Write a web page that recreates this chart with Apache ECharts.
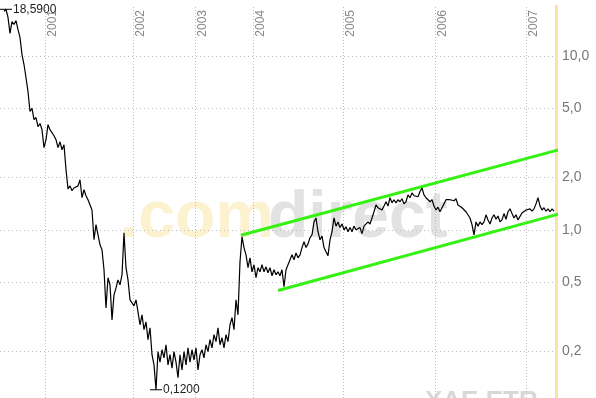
<!DOCTYPE html>
<html><head><meta charset="utf-8">
<script src="https://cdn.jsdelivr.net/npm/echarts@6/dist/echarts.min.js"></script>
<style>html,body{margin:0;padding:0;background:#fff}#c{width:596px;height:398px}</style>
</head><body><div id="c"></div>
<script>
// daily closing prices (compressed trading-day index)
const prices = [
18.1,18.59,16.7,13.5,15.8,15.2,16.0,14.2,12.8,10.2,8.94,7.5,6.24,4.8,5.0,4.31,4.43,3.92,4.09,3.77,
2.97,3.30,4.03,3.77,3.87,3.48,3.30,2.97,3.21,2.89,3.09,2.22,1.72,1.79,1.68,1.74,1.70,1.79,1.94,1.53,
1.70,1.57,1.49,1.53,1.30,0.876,1.07,0.936,0.820,0.767,0.589,0.355,0.53,0.482,0.303,0.422,0.463,0.515,0.482,0.551,
0.96,0.605,0.515,0.395,0.405,0.365,0.395,0.337,0.284,0.324,0.266,0.295,0.233,0.273,0.191,0.167,0.12,0.199,0.173,0.204,
0.183,0.218,0.167,0.191,0.16,0.199,0.173,0.141,0.191,0.156,0.199,0.167,0.209,0.173,0.204,0.178,0.209,0.156,0.191,0.204,
0.183,0.218,0.199,0.233,0.209,0.249,0.227,0.273,0.218,0.239,0.209,0.249,0.227,0.284,0.312,0.266,0.395,0.324,0.655,0.91,
0.79,0.718,0.605,0.69,0.573,0.629,0.53,0.605,0.573,0.629,0.573,0.612,0.566,0.605,0.544,0.589,0.551,0.573,0.544,0.589,
0.47,0.589,0.629,0.672,0.718,0.672,0.735,0.69,0.718,0.79,0.853,0.79,0.83,0.90,0.936,1.11,1.17,0.975,0.876,0.92,
0.79,0.747,0.71,0.876,0.975,1.17,1.05,1.11,1.03,1.08,1.0,1.04,0.975,1.03,0.975,1.05,1.0,0.975,1.03,0.95,
1.05,1.03,1.11,1.08,1.17,1.27,1.39,1.34,1.37,1.30,1.37,1.45,1.37,1.53,1.43,1.49,1.43,1.49,1.45,1.51,
1.41,1.45,1.59,1.53,1.63,1.57,1.61,1.55,1.66,1.74,1.59,1.53,1.57,1.45,1.49,1.37,1.30,1.35,1.27,1.34,
1.41,1.49,1.53,1.49,1.53,1.47,1.51,1.39,1.41,1.34,1.35,1.27,1.30,1.17,1.07,0.936,1.11,1.05,1.11,1.07,
1.11,1.22,1.14,1.08,1.17,1.22,1.15,1.20,1.11,1.14,1.24,1.15,1.27,1.32,1.24,1.17,1.22,1.14,1.17,1.25,
1.27,1.30,1.28,1.32,1.28,1.32,1.41,1.53,1.37,1.30,1.34,1.28,1.32,1.27,1.32,1.28
];
const yearLabels = ['2001','2002','2003','2004','2005','2006','2007'];
const yearStartIdx = [20.5,64.5,95.5,124.5,169.5,215.5,261];
const yTicks = [10,5,2,1,0.5,0.2];
const yTickLabels = ['10,0','5,0','2,0','1,0','0,5','0,2'];
const upperChannel = [[118.5,0.93],[296,3.30]];
const lowerChannel = [[137,0.447],[296,1.41]];

const chart = echarts.init(document.getElementById('c'), null, {renderer:'canvas'});
const fmt4 = v => v.toFixed(4).replace('.', ',');
chart.setOption({
  animation:false,
  backgroundColor:'#fff',
  grid:{left:0, right:40, top:6, bottom:0},
  xAxis:{type:'value', min:-2, max:prices.length, show:false, splitLine:{show:false}},
  yAxis:{type:'log', logBase:10, min:0.1076, max:19.42, position:'right',
    axisLine:{show:true, onZero:false, lineStyle:{color:'#fbe3a3', width:3}},
    axisTick:{show:false}, axisLabel:{show:false}, splitLine:{show:false}},
  graphic:[
    {type:'text', left:120, top:186, z:-10, silent:true,
      style:{text:'.com', fill:'#fdf2d0', font:'bold 66px "Liberation Sans"'}},
    {type:'text', left:268, top:186, z:-10, silent:true,
      style:{text:'direct', fill:'#e2e2e2', font:'bold 66px "Liberation Sans"'}},
    {type:'text', left:425, top:389, z:-10, silent:true,
      style:{text:'XAE.ETR', fill:'#d8d8d8', font:'bold 26px "Liberation Sans"'}}
  ],
  series:[
    {type:'line', data:upperChannel, symbol:'none', clip:false, z:4, silent:true,
      lineStyle:{color:'#36f214', width:3},
      markLine:{silent:true, symbol:['none','none'], z:1,
        lineStyle:{color:'#bdbdbd', type:[1,3], width:1},
        label:{position:'end', distance:6, color:'#777', fontSize:14, fontFamily:'Liberation Sans'},
        data: yTicks.map((v,i)=>({yAxis:v, label:{formatter:yTickLabels[i]}}))}},
    {type:'line', data:lowerChannel, symbol:'none', clip:false, z:4, silent:true,
      lineStyle:{color:'#36f214', width:3},
      markLine:{silent:true, symbol:['none','none'], z:1,
        lineStyle:{color:'#bdbdbd', type:[1,2], width:1},
        label:{position:'insideEndBottom', distance:[4,2], color:'#888', fontSize:12, fontFamily:'Liberation Sans'},
        data: yearStartIdx.map((t,i)=>({xAxis:t, label:{formatter:yearLabels[i]}}))}},
    {type:'line', data:prices.map((v,i)=>[i,v]), symbol:'none', showSymbol:false, z:6,
      lineStyle:{color:'#000', width:1.2},
      markPoint:{symbol:'rect', symbolSize:[12,1], silent:true,
        itemStyle:{color:'#000'},
        label:{show:true, position:'right', distance:1, color:'#222', fontSize:12, fontFamily:'Liberation Sans',
          formatter:p=>fmt4(p.value)},
        data:[{type:'max', valueDim:'y'},{type:'min', valueDim:'y'}]}}
  ]
});
</script></body></html>
